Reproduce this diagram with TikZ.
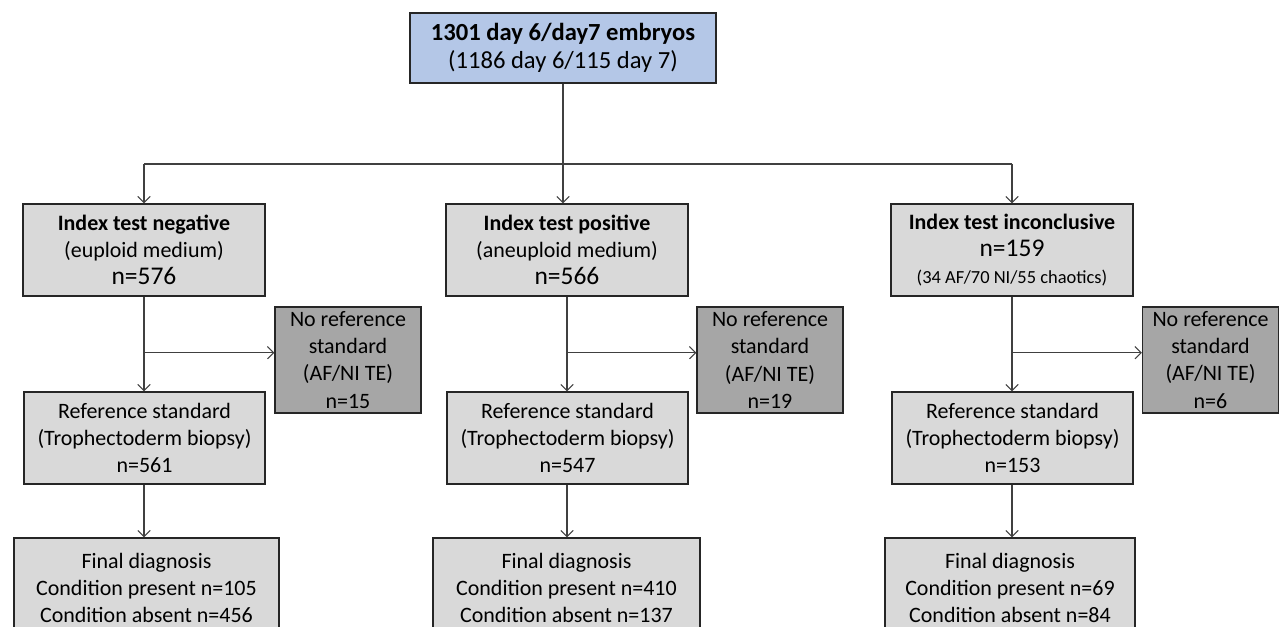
\documentclass[tikz,border=0pt]{standalone}
\usepackage{fontspec}
\setmainfont{Carlito}
\usetikzlibrary{arrows.meta,positioning,calc}
\definecolor{edge}{HTML}{262626}
\definecolor{wire}{HTML}{404040}
\definecolor{bluefill}{HTML}{B4C7E7}
\definecolor{greyfill}{HTML}{D9D9D9}
\definecolor{darkfill}{HTML}{A6A6A6}
\tikzset{
  box/.style={draw=edge, line width=0.8pt, align=center, inner sep=2pt,
              font=\fontsize{12.5}{15.4}\selectfont},
  bluebox/.style={box, fill=bluefill, font=\fontsize{14}{16.2}\selectfont},
  greybox/.style={box, fill=greyfill},
  darkbox/.style={box, fill=darkfill},
  ar/.style={-{Straight Barb[length=3.5pt,width=7pt]}, line width=0.6pt, draw=wire},
  ln/.style={line width=0.6pt, draw=wire},
  big/.style={font=\fontsize{14.5}{17}\selectfont}
}
\newcommand{\bignum}[1]{{\fontsize{14.5}{17}\selectfont #1}}
\begin{document}
\begin{tikzpicture}[x=1cm,y=1cm]
  \useasboundingbox (0,0) rectangle (25.6,-12.54);

  % top
  \node[bluebox, minimum width=6.12cm, minimum height=1.40cm] (top) at (11.26,-0.96)
    {\textbf{1301 day 6/day7 embryos}\\(1186 day 6/115 day 7)};

  % index tests
  \node[greybox, minimum width=4.84cm, minimum height=1.84cm] (neg) at (2.88,-5.00)
    {\textbf{Index test negative}\\(euploid medium)\\\bignum{n=576}};
  \node[greybox, minimum width=4.84cm, minimum height=1.84cm] (pos) at (11.34,-5.00)
    {\textbf{Index test positive}\\(aneuploid medium)\\\bignum{n=566}};
  \node[greybox, minimum width=4.84cm, minimum height=1.84cm] (inc) at (20.24,-5.00)
    {\textbf{Index test inconclusive}\\\bignum{n=159}\\{\fontsize{10.5}{13}\selectfont (34 AF/70 NI/55 chaotics)}};

  % no reference standard
  \node[darkbox, minimum width=2.92cm, minimum height=2.12cm] (noref1) at (6.96,-7.20)
    {No reference\\standard\\(AF/NI TE)\\n=15};
  \node[darkbox, minimum width=2.92cm, minimum height=2.12cm] (noref2) at (15.40,-7.20)
    {No reference\\standard\\(AF/NI TE)\\n=19};
  \node[darkbox, minimum width=2.72cm, minimum height=2.12cm] (noref3) at (24.21,-7.20)
    {No reference\\standard\\(AF/NI TE)\\n=6};

  % reference standard
  \foreach \nm/\x/\n in {ref1/2.89/561, ref2/11.35/547, ref3/20.25/153}
    \node[greybox, minimum width=4.82cm, minimum height=1.84cm] (\nm) at (\x,-8.76)
      {Reference standard\\(Trophectoderm biopsy)\\n=\n};

  % final diagnosis
  \node[greybox, minimum width=5.30cm, minimum height=2.0cm] (fin1) at (2.93,-11.76)
    {Final diagnosis\\Condition present n=105\\Condition absent n=456};
  \node[greybox, minimum width=5.34cm, minimum height=2.0cm] (fin2) at (11.33,-11.76)
    {Final diagnosis\\Condition present n=410\\Condition absent n=137};
  \node[greybox, minimum width=5.00cm, minimum height=2.0cm] (fin3) at (20.20,-11.76)
    {Final diagnosis\\Condition present n=69\\Condition absent n=84};

  % split to the three index tests
  \coordinate (split) at (0,-3.28);
  \draw[ln] (top.south) -- (top.south |- split);
  \draw[ln] (neg.north |- split) -- (inc.north |- split);
  \draw[ar] (neg.north |- split) -- (neg.north);
  \draw[ar] (top.south |- split) -- (top.south |- pos.north);
  \draw[ar] (inc.north |- split) -- (inc.north);

  % columns
  \foreach \a/\b/\c/\d in {neg/ref1/noref1/fin1, pos/ref2/noref2/fin2, inc/ref3/noref3/fin3} {
    \draw[ar] (\a.south) -- (\a.south |- \b.north);
    \coordinate (br\a) at ($(\a.south)+(0,-1.12)$);
    \draw[ar] (br\a) -- (br\a -| \c.west);
    \draw[ar] (\a.south |- \b.south) -- (\a.south |- \d.north);
  }
\end{tikzpicture}
\end{document}
